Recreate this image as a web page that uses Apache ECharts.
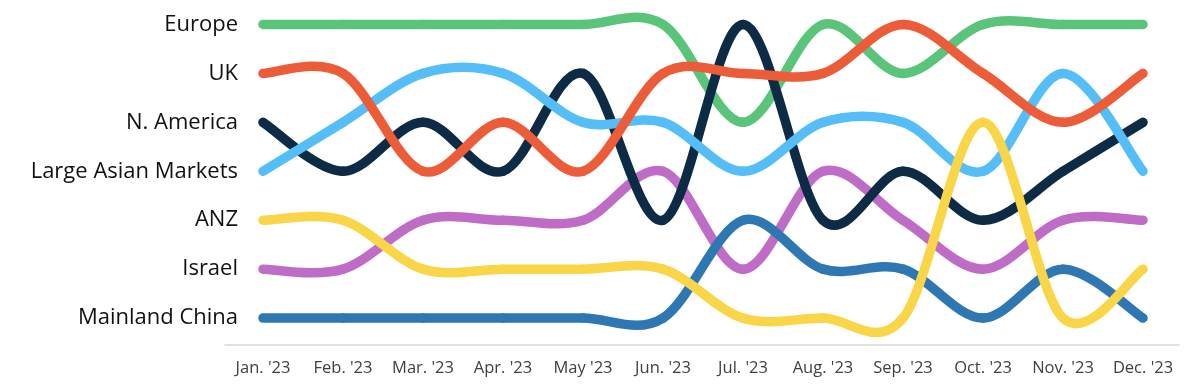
<!DOCTYPE html>
<html>
<head>
<meta charset="utf-8">
<script src="https://cdn.jsdelivr.net/npm/echarts@6/dist/echarts.min.js"></script>
<style>
html,body{margin:0;padding:0;background:#fff;}
#c{width:1200px;height:392px;}
</style>
</head>
<body>
<div id="c"></div>
<script>
const months = ["Jan. '23","Feb. '23","Mar. '23","Apr. '23","May '23","Jun. '23","Jul. '23","Aug. '23","Sep. '23","Oct. '23","Nov. '23","Dec. '23"];
const rankNames = ["Europe","UK","N. America","Large Asian Markets","ANZ","Israel","Mainland China"];

const europe        = [1,1,1,1,1,1,3,1,2,1,1,1];
const uk            = [2,2,4,3,4,2,2,2,1,2,3,2];
const nAmerica      = [3,4,3,4,2,5,1,5,4,5,4,3];
const largeAsian    = [4,3,2,2,3,3,4,3,3,4,2,4];
const anz           = [5,5,6,6,6,6,7,7,7,3,7,6];
const israel        = [6,6,5,5,5,4,6,4,5,6,5,5];
const mainlandChina = [7,7,7,7,7,7,5,6,6,7,6,7];

// drawing order: first is bottom, last is on top
const seriesDefs = [
  {name:"Europe", data: europe, color:"#5BC47B"},
  {name:"Israel", data: israel, color:"#BF6CC6"},
  {name:"Mainland China", data: mainlandChina, color:"#2F77B2"},
  {name:"N. America", data: nAmerica, color:"#0E2B45"},
  {name:"Large Asian Markets", data: largeAsian, color:"#55BDF8"},
  {name:"UK", data: uk, color:"#EC5C38"},
  {name:"ANZ", data: anz, color:"#F8D648"}
];

function makeRenderItem(values, color){
  return function(params, api){
    const i = params.dataIndex;
    const n = values.length;
    if (i >= n - 1) return null;
    const P = k => {
      const kk = Math.max(0, Math.min(n-1, k));
      return api.coord([kk, values[kk]]);
    };
    const p0 = P(i-1), p1 = P(i), p2 = P(i+1), p3 = P(i+2);
    const t = 1/6;
    return {
      type:'bezierCurve',
      shape:{
        x1:p1[0], y1:p1[1], x2:p2[0], y2:p2[1],
        cpx1:p1[0] + (p2[0]-p0[0])*t, cpy1:p1[1] + (p2[1]-p0[1])*t,
        cpx2:p2[0] - (p3[0]-p1[0])*t, cpy2:p2[1] - (p3[1]-p1[1])*t
      },
      style:{stroke:color, lineWidth:9.5, lineCap:'round', fill:null}
    };
  };
}

const chart = echarts.init(document.getElementById('c'));
chart.setOption({
  animation:false,
  backgroundColor:'#fff',
  grid:{left:225, right:21, top:0, bottom:47, containLabel:false},
  xAxis:{
    type:'value', min:-0.475, max:11.45,
    splitLine:{show:false},
    axisLine:{show:true, lineStyle:{color:'#D9D9D9', width:1.5}},
    axisTick:{show:false},
    axisLabel:{
      customValues: months.map((m,i)=>i),
      formatter: v => months[Math.round(v)],
      color:'#404040', fontSize:16.5, fontFamily:'Open Sans', margin:15
    }
  },
  yAxis:{
    type:'value', inverse:true, min:0.5, max:7.55,
    splitLine:{show:false},
    axisLine:{show:false},
    axisTick:{show:false},
    axisLabel:{
      customValues: rankNames.map((n,i)=>i+1),
      formatter: v => rankNames[Math.round(v)-1],
      color:'#111', fontSize:22, fontFamily:'Open Sans', margin:-13, align:'right',
      padding:[3,0,0,0]
    }
  },
  series: seriesDefs.map(s=>({
    type:'custom', name:s.name,
    data: s.data.map((v,i)=>[i,v]),
    encode:{x:0, y:1},
    clip:false,
    renderItem: makeRenderItem(s.data, s.color)
  }))
});
</script>
</body>
</html>
